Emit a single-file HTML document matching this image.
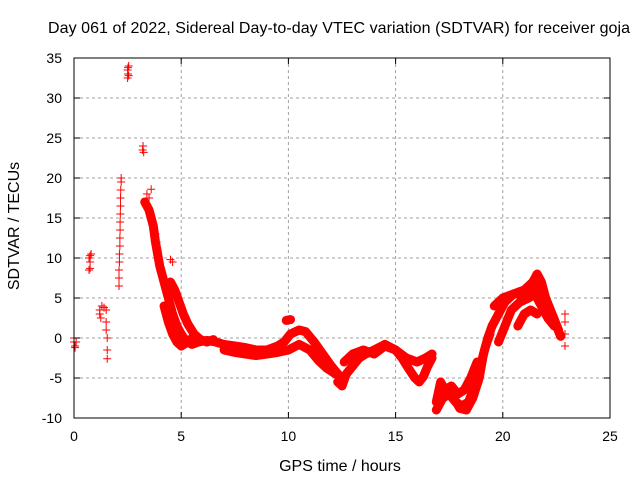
<!DOCTYPE html>
<html><head><meta charset="utf-8"><style>
body{margin:0;background:#fff}
svg{display:block;font-family:"Liberation Sans",sans-serif}
</style></head><body>
<svg id="chart" width="640" height="480">
<g id="grid"></g>
<g id="series"></g>
<rect x="74" y="58" width="536" height="360" fill="none" stroke="#000" stroke-width="1"/>
<g id="axes"></g>
<text x="339" y="33" text-anchor="middle" font-size="16" textLength="582">Day 061 of 2022, Sidereal Day-to-day VTEC variation (SDTVAR) for receiver goja</text>
<text x="340" y="471" text-anchor="middle" font-size="16">GPS time / hours</text>
<text transform="translate(19,226) rotate(-90)" text-anchor="middle" font-size="16">SDTVAR / TECUs</text>
</svg>
<script>
const xTicks=[0,5,10,15,20,25];
const yTicks=[-10,-5,0,5,10,15,20,25,30,35];
const tracks=[
[[3.3,17],[3.5,16],[3.7,14],[3.8,12],[4.0,9],[4.2,7],[4.4,5],[4.6,3],[4.8,1.5],[5.0,0.5],[5.2,-0.3],[5.5,-0.8],[5.8,-0.5],[6.2,-0.3],[6.6,-0.5],[7.0,-0.8],[7.5,-1],[8.0,-1.2],[8.5,-1.5],[9.0,-1.5],[9.5,-1],[9.8,-0.5],[10.1,0.5],[10.5,1],[10.8,0.8],[11.2,-0.5],[11.6,-2],[12.0,-3.5],[12.4,-4.8]],
[[4.5,7],[4.7,6],[4.9,4.5],[5.1,3],[5.3,1.8],[5.6,0.5],[5.9,-0.2],[6.2,-0.5],[6.5,-0.2]],
[[4.2,4],[4.4,2],[4.6,0.5],[4.8,-0.5],[5.0,-1],[5.3,-0.5],[5.6,0.2],[5.9,-0.3]],
[[7,-1.5],[7.5,-1.8],[8,-2],[8.5,-2.2],[9,-2],[9.5,-1.8],[10,-1.5],[10.5,-0.8],[11,-1.5],[11.4,-2.8],[11.8,-3.8],[12.2,-4.5]],
[[12.3,-5.5],[12.5,-6],[12.7,-4.5],[13,-3.5],[13.3,-2.5],[13.6,-2],[14,-1.5],[14.5,-0.8],[15,-1.5],[15.3,-2.5],[15.6,-3.8],[15.9,-5],[16.1,-5.5],[16.3,-4.8],[16.5,-3.5],[16.7,-2.5]],
[[12.6,-3],[13,-2],[13.5,-1.5],[14,-2],[14.5,-1],[15,-1.5],[15.5,-2.5],[16,-3],[16.4,-2.5],[16.7,-2]],
[[16.9,-9],[17.2,-7.5],[17.5,-7],[17.8,-8],[18.1,-8.5],[18.4,-8],[18.7,-6],[19.0,-3],[19.2,-1],[19.4,0.5]],
[[17.2,-6.5],[17.6,-7],[18.0,-8.8],[18.3,-9],[18.6,-7.5],[18.9,-5],[19.1,-2],[19.3,0],[19.5,1.5],[19.8,3],[20.1,4.5],[20.5,5.5],[21,6],[21.4,7],[21.6,8],[21.8,7],[22,5],[22.3,3],[22.6,1]],
[[16.9,-8],[17.1,-5.5],[17.3,-6.5],[17.6,-6],[17.9,-7],[18.2,-6.5],[18.5,-5],[18.8,-3]],
[[19.6,4],[20,5],[20.5,5.5],[21,5.5],[21.3,6],[21.6,6.5],[21.9,4.5],[22.2,3],[22.5,1.5],[22.7,0.2]],
[[19.8,-0.5],[20.1,1.5],[20.4,3.5],[20.8,4.5],[21.2,5],[21.5,5.5],[21.8,4],[22.1,2.5],[22.4,1.5]],
[[20.7,1.5],[21,3],[21.3,3.5],[21.6,3]],
[[9.9,2.2],[10.1,2.3]]
];
const sparse=[[0,0],[0,-0.5],[0.05,-1],[0.1,-0.5],[0.05,-1.2],[0.7,8.5],[0.75,8.7],[0.75,10.3],[0.8,10.5],[0.7,10],[0.75,9.5],
[1.2,3.5],[1.3,4],[1.4,3.8],[1.5,3.5],[1.25,2.5],[1.2,3],[1.5,2],[1.5,1],[1.55,0],[1.55,-1.5],[1.55,-2.6],
[2.1,6.5],[2.1,7.5],[2.1,8.5],[2.12,9.5],[2.12,10.5],[2.14,11.5],[2.14,12.5],[2.15,13.5],[2.15,14.5],[2.16,15.5],[2.17,16.5],[2.17,17.5],[2.18,18.5],[2.2,19.5],[2.2,20],
[2.5,32.5],[2.52,33],[2.5,33.5],[2.55,34],[2.52,33.8],[2.55,32.8],[3.2,23.5],[3.22,24],[3.25,23.2],
[3.4,18],[3.5,17.5],[3.6,18.6],[3.8,13],[3.85,12],[3.9,11],[4.5,9.8],[4.6,9.5],[22.9,3],[22.9,2],[22.9,0.5],[22.9,-1]];
const X=t=>74+t*536/25, Y=v=>418-(v+10)*8;
const NS='http://www.w3.org/2000/svg';
const mk=(tag,attrs,parent)=>{const e=document.createElementNS(NS,tag);for(const k in attrs)e.setAttribute(k,attrs[k]);parent.appendChild(e);return e;};
const grid=document.getElementById('grid'),axes=document.getElementById('axes'),ser=document.getElementById('series');
xTicks.forEach(t=>{const x=X(t);
 if(t>0&&t<25){const g=mk('line',{x1:x,x2:x,y1:58,y2:418,stroke:'#a0a0a0','stroke-dasharray':'3,3'},grid);}
 mk('line',{x1:x,x2:x,y1:418,y2:412,stroke:'#000'},axes);mk('line',{x1:x,x2:x,y1:58,y2:64,stroke:'#000'},axes);
 const l=mk('text',{x:x,y:441,'text-anchor':'middle','font-size':'14'},axes);l.textContent=t;
 });
yTicks.forEach(v=>{const y=Y(v);
 if(v>-10&&v<35){const g=mk('line',{x1:74,x2:610,y1:y,y2:y,stroke:'#a0a0a0','stroke-dasharray':'3,3'},grid);}
 mk('line',{x1:74,x2:80,y1:y,y2:y,stroke:'#000'},axes);mk('line',{x1:610,x2:604,y1:y,y2:y,stroke:'#000'},axes);
 const l=mk('text',{x:62,y:y+5,'text-anchor':'end','font-size':'14'},axes);l.textContent=v;
 });
const plus=(t,v)=>{const x=X(t),y=Y(v);const p=mk('path',{d:`M${x-4} ${y}h8M${x} ${y-4}v8`,stroke:'#f00','stroke-width':1,fill:'none'},ser);
 };
tracks.forEach(tr=>{const pl=mk('polyline',{points:tr.map(p=>X(p[0])+','+Y(p[1])).join(' '),fill:'none',stroke:'#f00','stroke-width':9,'stroke-linejoin':'round','stroke-linecap':'round'},ser);
 
 tr.forEach(p=>plus(p[0],p[1]));});
sparse.forEach(p=>plus(p[0],p[1]));
</script>
</body></html>
